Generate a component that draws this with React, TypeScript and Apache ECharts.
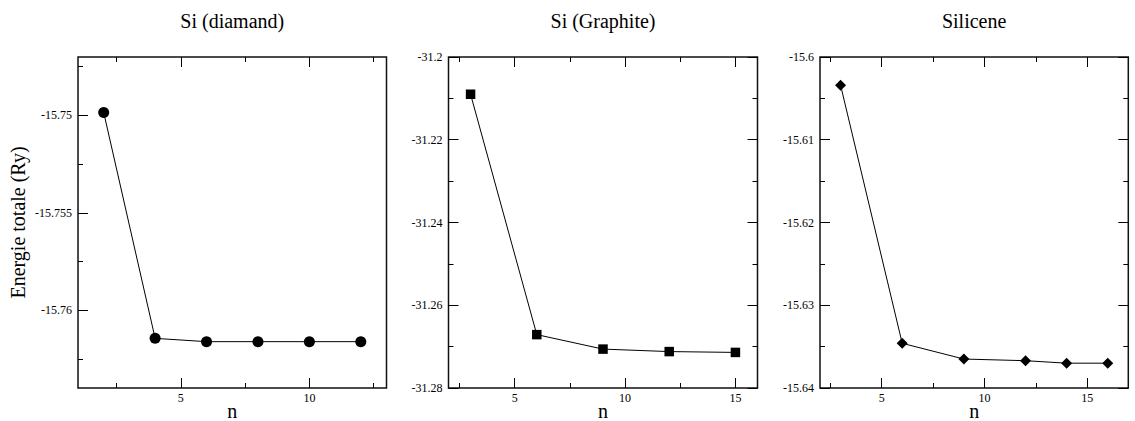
import { useEffect, useRef } from "react";
import * as echarts from "echarts";

// ---- data ----
const nDiamand = [2, 4, 6, 8, 10, 12];
const eDiamand = [-15.74985, -15.76145, -15.76162, -15.76162, -15.76162, -15.76162];

const nGraphite = [3, 6, 9, 12, 15];
const eGraphite = [-31.209, -31.2671, -31.2706, -31.2712, -31.2714];

const nSilicene = [3, 6, 9, 12, 14, 16];
const eSilicene = [-15.6034, -15.6346, -15.6365, -15.6367, -15.637, -15.637];

const titles = ["Si (diamand)", "Si (Graphite)", "Silicene"];

// tick values
const xMajor1 = [5, 10];
const xMinor1 = [2.5, 7.5, 12.5];
const yMajor1 = [-15.75, -15.755, -15.76];
const yMinor1 = [-15.7475, -15.7525, -15.7575, -15.7625];

const xMajor2 = [5, 10, 15];
const xMinor2 = [2.5, 7.5, 12.5];
const yMajor2 = [-31.28, -31.26, -31.24, -31.22, -31.2];
const yMinor2 = [-31.27, -31.25, -31.23, -31.21];

const xMajor3 = [5, 10, 15];
const xMinor3 = [2.5, 7.5, 12.5];
const yMajor3 = [-15.64, -15.63, -15.62, -15.61, -15.6];
const yMinor3 = [-15.635, -15.625, -15.615, -15.605];

const FONT = "Liberation Serif";

const panels = [
  {
    grid: { left: 78, top: 57, width: 308.5, height: 331 },
    x: [1, 13], y: [-15.764, -15.747],
    xMajor: xMajor1, xMinor: xMinor1, yMajor: yMajor1, yMinor: yMinor1,
    rightTicks: false, symbol: "circle", size: 11,
    n: nDiamand, e: eDiamand, title: titles[0], yName: "Energie totale (Ry)",
  },
  {
    grid: { left: 448.5, top: 57, width: 309, height: 331 },
    x: [2, 16], y: [-31.28, -31.2],
    xMajor: xMajor2, xMinor: xMinor2, yMajor: yMajor2, yMinor: yMinor2,
    rightTicks: true, symbol: "rect", size: 9.5,
    n: nGraphite, e: eGraphite, title: titles[1], yName: "",
  },
  {
    grid: { left: 820, top: 57, width: 308.3, height: 331 },
    x: [2, 17], y: [-15.64, -15.6],
    xMajor: xMajor3, xMinor: xMinor3, yMajor: yMajor3, yMinor: yMinor3,
    rightTicks: true, symbol: "diamond", size: 11,
    n: nSilicene, e: eSilicene, title: titles[2], yName: "",
  },
];

function fmt(v: number) {
  return String(parseFloat(Number(v).toFixed(5)));
}

function makeAxis(
  gridIndex: number,
  position: string,
  min: number,
  max: number,
  values: number[],
  len: number,
  labels: boolean,
  name?: string,
  nameGap?: number
) {
  const ax: any = {
    type: "value",
    gridIndex,
    position,
    min,
    max,
    axisLine: { show: false, onZero: false },
    splitLine: { show: false },
    axisTick: {
      show: true,
      inside: true,
      length: len,
      customValues: values,
      lineStyle: { color: "#000", width: 1 },
    },
    axisLabel: labels
      ? {
          show: true,
          customValues: values,
          formatter: (v: number) => fmt(v),
          fontSize: 12,
          fontFamily: FONT,
          color: "#000",
          margin: position === "bottom" ? 4 : 6,
        }
      : { show: false },
  };
  if (name) {
    ax.name = name;
    ax.nameLocation = "middle";
    ax.nameGap = nameGap;
    ax.nameMoveOverlap = false;
    ax.nameTextStyle = { fontSize: 20, fontFamily: FONT, color: "#000" };
  }
  return ax;
}

export default function App() {
  const ref = useRef<HTMLDivElement>(null);

  useEffect(() => {
    if (!ref.current) return;
    const chart = echarts.init(ref.current, null, { renderer: "svg" });

    const grids: any[] = [];
    const xAxes: any[] = [];
    const yAxes: any[] = [];
    const series: any[] = [];

    panels.forEach((p, i) => {
      grids.push({
        ...p.grid,
        show: true,
        borderColor: "#111",
        borderWidth: 1.5,
        backgroundColor: "transparent",
        containLabel: false,
        outerBoundsMode: "none",
      });
      const xMainIndex = xAxes.length;
      xAxes.push(makeAxis(i, "bottom", p.x[0], p.x[1], p.xMajor, 10, true, "n", 13));
      xAxes.push(makeAxis(i, "bottom", p.x[0], p.x[1], p.xMinor, 5, false));
      xAxes.push(makeAxis(i, "top", p.x[0], p.x[1], p.xMajor, 10, false, p.title, 26));
      xAxes.push(makeAxis(i, "top", p.x[0], p.x[1], p.xMinor, 5, false));

      const yMainIndex = yAxes.length;
      yAxes.push(makeAxis(i, "left", p.y[0], p.y[1], p.yMajor, 10, true, p.yName || undefined, 50));
      yAxes.push(makeAxis(i, "left", p.y[0], p.y[1], p.yMinor, 5, false));
      if (p.rightTicks) {
        yAxes.push(makeAxis(i, "right", p.y[0], p.y[1], p.yMajor, 10, false));
        yAxes.push(makeAxis(i, "right", p.y[0], p.y[1], p.yMinor, 5, false));
      }

      series.push({
        type: "line",
        xAxisIndex: xMainIndex,
        yAxisIndex: yMainIndex,
        data: p.n.map((n, k) => [n, p.e[k]]),
        symbol: p.symbol,
        symbolSize: p.size,
        showSymbol: true,
        lineStyle: { color: "#000", width: 1 },
        itemStyle: { color: "#000", borderWidth: 0 },
        emphasis: { disabled: true },
      });
    });

    chart.setOption({
      animation: false,
      backgroundColor: "#fff",
      grid: grids,
      xAxis: xAxes,
      yAxis: yAxes,
      series,
    });

    return () => chart.dispose();
  }, []);

  return (
    <div
      ref={ref}
      style={{ position: "absolute", left: 0, top: 0, width: 1135, height: 421, background: "#fff" }}
    />
  );
}
